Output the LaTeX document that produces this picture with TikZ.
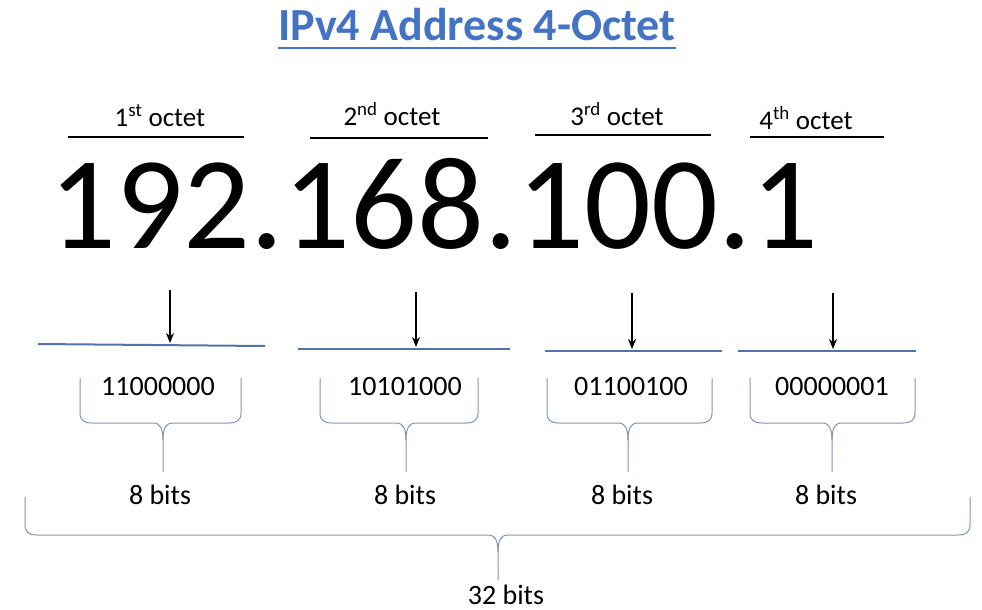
\documentclass[tikz,border=0pt]{standalone}
\usepackage{fontspec}
\setmainfont{Carlito}
\usetikzlibrary{arrows.meta}
\definecolor{titleblue}{HTML}{4472C4}
\definecolor{lineblue}{HTML}{5273AC}
\definecolor{bracecol}{HTML}{7E93B8}
\begin{document}
\begin{tikzpicture}[x=1pt,y=-1pt,
  octlbl/.style={font=\fontsize{27}{30}\selectfont, anchor=base, inner sep=0pt},
  binlbl/.style={font=\fontsize{28}{32}\selectfont, anchor=base, inner sep=0pt},
  bitlbl/.style={font=\fontsize{28}{32}\selectfont, anchor=base, inner sep=0pt},
  headline/.style={line width=2pt, black},
  blueline/.style={line width=2pt, lineblue},
  downarrow/.style={line width=1.8pt, -{Stealth[length=10pt,width=8pt]}},
  bracepath/.style={line width=1pt, bracecol}
]
\useasboundingbox (0,0) rectangle (982,610);
% title
\node[font=\fontsize{46}{50}\selectfont\bfseries, text=titleblue, anchor=base, inner sep=0pt] (title) at (477,41) {IPv4 Address 4-Octet};
\draw[titleblue, line width=2.5pt] (title.south west |- 0,48) -- (title.south east |- 0,48);
% octet labels
\node[octlbl] (o1) at (160,126) {1\textsuperscript{st} octet};
\node[octlbl] (o2) at (392,125) {2\textsuperscript{nd} octet};
\node[octlbl] (o3) at (617,125) {3\textsuperscript{rd} octet};
\node[octlbl] (o4) at (806,129) {4\textsuperscript{th} octet};
\draw[headline] (68,137) -- (244,137);
\draw[headline] (310,138) -- (488,138);
\draw[headline] (535,135) -- (711,135);
\draw[headline] (750,137) -- (884,137);
% big address
\node[font=\fontsize{132}{140}\selectfont, anchor=base, inner sep=0pt] (ip) at (434,248) {192.168.100.1};
% arrows and blue lines
\coordinate (a1s) at (170,290); \coordinate (a1e) at (170,343);
\coordinate (a2s) at (416,292); \coordinate (a2e) at (416,347);
\coordinate (a3s) at (632,293); \coordinate (a3e) at (632,349);
\coordinate (a4s) at (833,293); \coordinate (a4e) at (833,349);
\draw[blueline] (38,344) -- (265,346);
\draw[blueline] (298,349) -- (510,349);
\draw[blueline] (545,351) -- (722,351);
\draw[blueline] (738,351) -- (916,351);
\draw[downarrow] (a1s) -- (a1e);
\draw[downarrow] (a2s) -- (a2e);
\draw[downarrow] (a3s) -- (a3e);
\draw[downarrow] (a4s) -- (a4e);
% binary
\node[binlbl] (b1) at (158,395) {11000000};
\node[binlbl] (b2) at (405,395) {10101000};
\node[binlbl] (b3) at (631,395) {01100100};
\node[binlbl] (b4) at (832,395) {00000001};
% braces
\foreach \L/\R/\T in {80/241/163, 320/478/406, 547/712/628, 750/915/832}{
  \draw[bracepath] (\L,378) -- (\L,413) .. controls (\L,420) and (\L+4,423) .. (\L+12,423)
     -- (\T-10,423) .. controls (\T-3,423) and (\T,428) .. (\T,440) -- (\T,472);
  \draw[bracepath] (\R,378) -- (\R,413) .. controls (\R,420) and (\R-4,423) .. (\R-12,423)
     -- (\T+10,423) .. controls (\T+3,423) and (\T,428) .. (\T,440);
}
\node[bitlbl] (e1) at (160,504) {8 bits};
\node[bitlbl] (e2) at (405,504) {8 bits};
\node[bitlbl] (e3) at (622,504) {8 bits};
\node[bitlbl] (e4) at (826,504) {8 bits};
% big brace
\draw[bracepath] (25,497) -- (25,525) .. controls (25,532) and (29,535) .. (37,535)
   -- (488,535) .. controls (495,535) and (498,540) .. (498,552) -- (498,580);
\draw[bracepath] (970,497) -- (970,525) .. controls (970,532) and (966,535) .. (958,535)
   -- (508,535) .. controls (501,535) and (498,540) .. (498,552);
\node[bitlbl] (tot) at (506,604) {32 bits};
\end{tikzpicture}
\end{document}
